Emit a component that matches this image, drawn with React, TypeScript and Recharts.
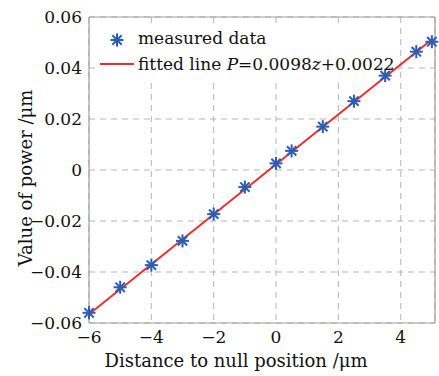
import {
  ComposedChart,
  Scatter,
  Line,
  XAxis,
  YAxis,
  CartesianGrid,
  ReferenceLine,
} from "recharts";

// measured points (distance to null position, value of power)
const distance = [-6, -5, -4, -3, -2, -1, 0, 0.5, 1.5, 2.5, 3.5, 4.5, 5];
const power = [
  -0.056, -0.046, -0.0373, -0.0278, -0.0173, -0.0067, 0.0026, 0.0075, 0.017,
  0.027, 0.037, 0.0464, 0.0503,
];

// fitted line end points, P = 0.0098z + 0.0022
const fitDistance = [-6, 5];
const fitPower = [-0.0566, 0.0512];

const xTicks = [-6, -4, -2, 0, 2, 4];
const yTicks = [-0.06, -0.04, -0.02, 0, 0.02, 0.04, 0.06];

const BLUE = "#2c5db3";
const RED = "#e8302e";
const FONT = "'DejaVu Serif', serif";
const X_DOMAIN: [number, number] = [-6, 5.1];
const Y_DOMAIN: [number, number] = [-0.06, 0.06];
const MARGIN = { top: 17, right: 4, bottom: 0, left: 0 };

const measured = distance.map((x, i) => ({ x, y: power[i] }));
const fitted = fitDistance.map((x, i) => ({ x, y: fitPower[i] }));

const minus = (s: string) => s.replace("-", "\u2212");

function Asterisk({ cx, cy, r = 6.5 }: { cx: number; cy: number; r?: number }) {
  const d = r * 0.72;
  return (
    <g stroke={BLUE} strokeWidth={2} strokeLinecap="butt">
      <line x1={cx - r} y1={cy} x2={cx + r} y2={cy} />
      <line x1={cx} y1={cy - r} x2={cx} y2={cy + r} />
      <line x1={cx - d} y1={cy - d} x2={cx + d} y2={cy + d} />
      <line x1={cx - d} y1={cy + d} x2={cx + d} y2={cy - d} />
    </g>
  );
}

const layer = { position: "absolute" as const, left: 0, top: 0 };

export default function App() {
  return (
    <div
      style={{
        position: "absolute",
        left: 0,
        top: 0,
        width: 439,
        height: 376,
        background: "#fff",
        fontFamily: FONT,
      }}
    >
      {/* bottom layer: grid, frame and axes */}
      <ComposedChart width={439} height={376} margin={MARGIN} style={layer}>
        <CartesianGrid stroke="#b5b5b5" strokeDasharray="6 5" />
        <XAxis
          type="number"
          dataKey="x"
          domain={X_DOMAIN}
          ticks={xTicks}
          height={53}
          tickLine={false}
          axisLine={false}
          tickSize={0}
          tickMargin={8}
          tickFormatter={(v: number) => minus(String(v))}
          tick={{ fontSize: 17, fill: "#111", fontFamily: FONT }}
          label={{
            content: () => (
              <text
                x={236}
                y={362}
                textAnchor="middle"
                dominantBaseline="middle"
                fontSize={18}
                fontFamily={FONT}
                fill="#111"
              >
                Distance to null position /μm
              </text>
            ),
          }}
        />
        <YAxis
          type="number"
          dataKey="y"
          domain={Y_DOMAIN}
          ticks={yTicks}
          width={89}
          tickLine={false}
          axisLine={false}
          tickSize={0}
          tickMargin={7}
          tickFormatter={(v: number) => (v === 0 ? "0" : minus(v.toFixed(2)))}
          tick={{ fontSize: 17, fill: "#111", fontFamily: FONT }}
          label={{
            content: () => (
              <text
                x={27}
                y={178}
                transform="rotate(-90 27 178)"
                textAnchor="middle"
                dominantBaseline="middle"
                fontSize={18}
                fontFamily={FONT}
                fill="#111"
              >
                Value of power /μm
              </text>
            ),
          }}
        />
        <ReferenceLine x={-6} stroke="#a0a0a0" strokeWidth={1.2} />
        <ReferenceLine x={5.1} stroke="#a0a0a0" strokeWidth={1.2} />
        <ReferenceLine y={-0.06} stroke="#a0a0a0" strokeWidth={1.2} />
        <ReferenceLine y={0.06} stroke="#a0a0a0" strokeWidth={1.2} />
        {/* invisible copy of the data so the axes get built */}
        <Scatter
          data={measured}
          dataKey="y"
          isAnimationActive={false}
          shape={() => <g />}
        />
      </ComposedChart>

      {/* legend box hides the grid */}
      <div
        style={{
          position: "absolute",
          left: 96,
          top: 25,
          width: 282,
          height: 53,
          background: "#fff",
        }}
      />

      {/* top layer: data, same geometry */}
      <ComposedChart width={439} height={376} margin={MARGIN} style={layer}>
        <XAxis
          type="number"
          dataKey="x"
          domain={X_DOMAIN}
          ticks={xTicks}
          height={53}
          tick={false}
          tickLine={false}
          axisLine={false}
        />
        <YAxis
          type="number"
          dataKey="y"
          domain={Y_DOMAIN}
          ticks={yTicks}
          width={89}
          tick={false}
          tickLine={false}
          axisLine={false}
        />
        <Scatter
          data={measured}
          dataKey="y"
          isAnimationActive={false}
          shape={(p: any) => <Asterisk cx={p.cx} cy={p.cy} />}
        />
        <Line
          data={fitted}
          dataKey="y"
          type="linear"
          stroke={RED}
          strokeWidth={2}
          dot={false}
          activeDot={false}
          isAnimationActive={false}
        />
      </ComposedChart>

      {/* legend entries */}
      <div
        style={{
          position: "absolute",
          left: 96,
          top: 25,
          width: 320,
          height: 53,
          fontSize: 17,
          color: "#111",
          lineHeight: "24px",
          pointerEvents: "none",
        }}
      >
        <div style={{ display: "flex", alignItems: "center", height: 26 }}>
          <svg width={42} height={26} style={{ flex: "none" }}>
            <Asterisk cx={21} cy={15} />
          </svg>
          <span>measured data</span>
        </div>
        <div style={{ display: "flex", alignItems: "center", height: 26 }}>
          <svg width={42} height={26} style={{ flex: "none" }}>
            <line x1={4} y1={13} x2={38} y2={13} stroke={RED} strokeWidth={2} />
          </svg>
          <span>
            fitted line <i>P</i>=0.0098<i>z</i>+0.0022
          </span>
        </div>
      </div>
    </div>
  );
}
